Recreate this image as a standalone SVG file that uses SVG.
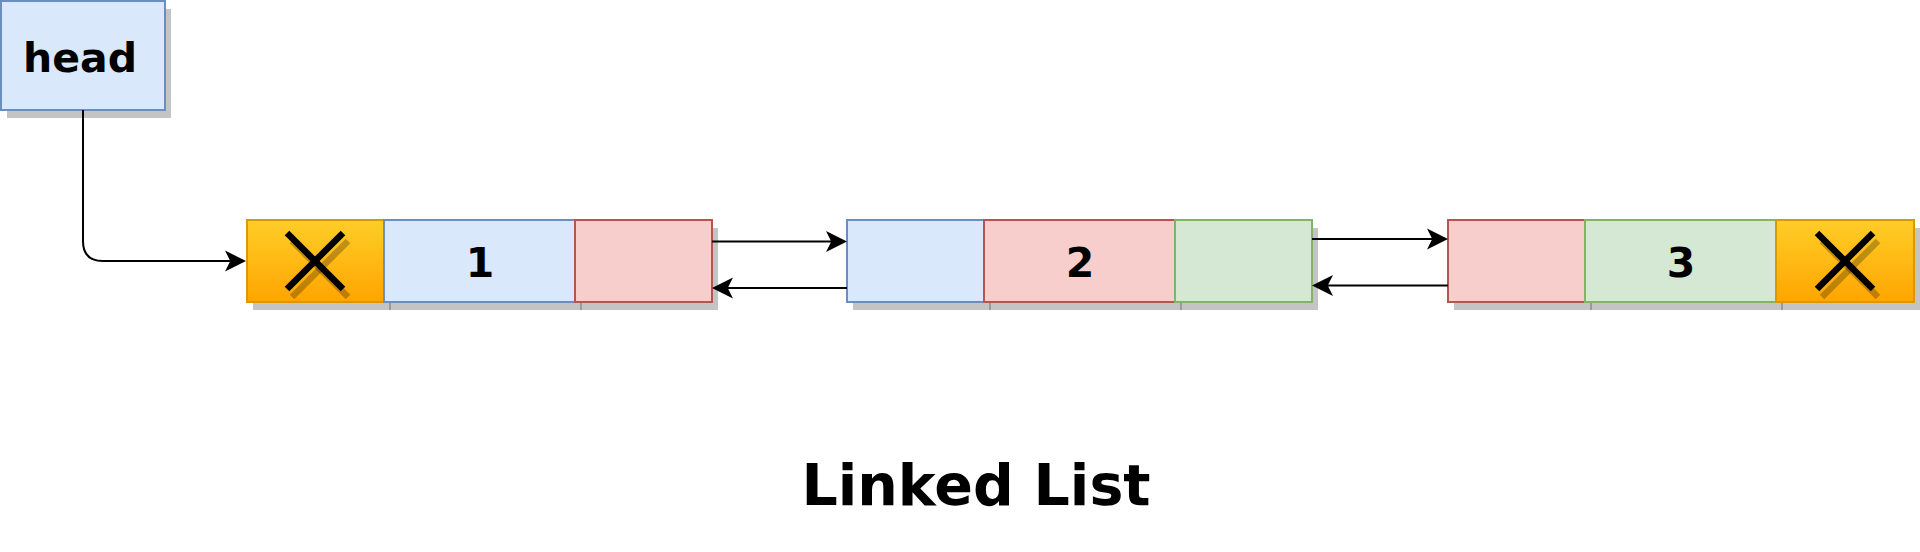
<svg xmlns="http://www.w3.org/2000/svg" width="1920" height="552" viewBox="0 0 1920 552">
<style>
.sh{fill:#c4c4c4;stroke:none}
.tick{stroke:#9a9a9a;stroke-width:2}
.blue{fill:#dae8fc;stroke:#6c8ebf;stroke-width:2}
.red{fill:#f8cecc;stroke:#b85450;stroke-width:2}
.green{fill:#d5e8d4;stroke:#82b366;stroke-width:2}
.orange{fill:url(#og);stroke:#d79b00;stroke-width:2}
.x{stroke:#000;stroke-width:6.5;fill:none}
.xs{stroke:#000;stroke-opacity:0.25;stroke-width:6.5;fill:none}
.t{font-family:"DejaVu Sans",sans-serif;font-weight:bold;fill:#000;text-anchor:middle}
.c{fill:none;stroke:#000;stroke-width:2}
</style>
<defs>
<linearGradient id="og" x1="0" y1="0" x2="0" y2="1">
<stop offset="0" stop-color="#ffcd28"/>
<stop offset="1" stop-color="#ffa500"/>
</linearGradient>
<marker id="arr" markerUnits="userSpaceOnUse" viewBox="-2 -12 24 24" markerWidth="24" markerHeight="24" refX="5" refY="0" orient="auto">
<path d="M20,0 L-1,-10.5 L4.25,0 L-1,10.5 Z" fill="#000"/>
</marker>
</defs>
<rect width="1920" height="552" fill="#fff"/>

<g id="head">
<rect class="sh" x="7" y="9" width="164" height="109"/>
<rect class="blue" x="1" y="1" width="164" height="109"/>
<text class="t" x="80" y="72" font-size="41">head</text>
</g>

<g id="node1">
<rect class="sh" x="253" y="228" width="465" height="82"/>
<line class="tick" x1="390" y1="302" x2="390" y2="310"/>
<line class="tick" x1="581" y1="302" x2="581" y2="310"/>
<rect class="orange" x="247" y="220" width="137" height="82"/>
<line class="xs" x1="292" y1="241" x2="348" y2="297"/>
<line class="xs" x1="348" y1="241" x2="292" y2="297"/>
<line class="x" x1="287" y1="233" x2="343" y2="289"/>
<line class="x" x1="343" y1="233" x2="287" y2="289"/>
<rect class="blue" x="384" y="220" width="191" height="82"/>
<rect class="red" x="575" y="220" width="137" height="82"/>
<text class="t" x="480" y="277" font-size="41">1</text>
</g>

<g id="node2">
<rect class="sh" x="853" y="228" width="465" height="82"/>
<line class="tick" x1="990" y1="302" x2="990" y2="310"/>
<line class="tick" x1="1181" y1="302" x2="1181" y2="310"/>
<rect class="blue" x="847" y="220" width="137" height="82"/>
<rect class="red" x="984" y="220" width="191" height="82"/>
<rect class="green" x="1175" y="220" width="137" height="82"/>
<text class="t" x="1080" y="277" font-size="41">2</text>
</g>

<g id="node3">
<rect class="sh" x="1454" y="228" width="466" height="82"/>
<line class="tick" x1="1591" y1="302" x2="1591" y2="310"/>
<line class="tick" x1="1782" y1="302" x2="1782" y2="310"/>
<rect class="red" x="1448" y="220" width="137" height="82"/>
<rect class="green" x="1585" y="220" width="191" height="82"/>
<rect class="orange" x="1776" y="220" width="138" height="82"/>
<line class="xs" x1="1822" y1="241" x2="1878" y2="297"/>
<line class="xs" x1="1878" y1="241" x2="1822" y2="297"/>
<line class="x" x1="1817" y1="233" x2="1873" y2="289"/>
<line class="x" x1="1873" y1="233" x2="1817" y2="289"/>
<text class="t" x="1681" y="277" font-size="41">3</text>
</g>

<g id="connectors">
<path class="c" d="M83,110 V241 Q83,261 103,261 H231" marker-end="url(#arr)"/>
<path class="c" d="M712,241.5 H832" marker-end="url(#arr)"/>
<path class="c" d="M847,288 H727" marker-end="url(#arr)"/>
<path class="c" d="M1312,239 H1433" marker-end="url(#arr)"/>
<path class="c" d="M1448,285.5 H1327" marker-end="url(#arr)"/>
</g>

<g id="title">
<text class="t" x="976" y="505" font-size="57">Linked List</text>
</g>
</svg>
